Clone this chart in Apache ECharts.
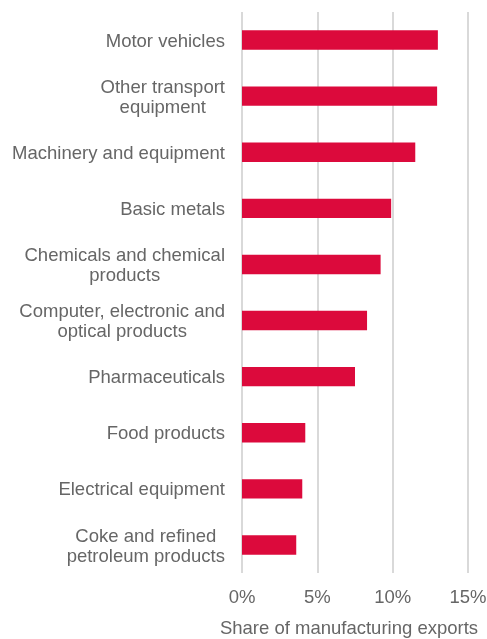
<!DOCTYPE html>
<html>
<head>
<meta charset="utf-8">
<script src="https://cdn.jsdelivr.net/npm/echarts@6/dist/echarts.min.js"></script>
<style>
  html, body { margin: 0; padding: 0; background: #fff; }
  #chart { width: 487px; height: 639px; }
</style>
</head>
<body>
<div id="chart"></div>
<script>
// Manufacturing sectors, top to bottom
const categories = [
  'Motor vehicles',
  'Other transport\nequipment',
  'Machinery and equipment',
  'Basic metals',
  'Chemicals and chemical\nproducts',
  'Computer, electronic and\noptical products',
  'Pharmaceuticals',
  'Food products',
  'Electrical equipment',
  'Coke and refined\npetroleum products'
];
// Share of manufacturing exports, in %
const shares = [13.0, 12.95, 11.5, 9.9, 9.2, 8.3, 7.5, 4.2, 4.0, 3.6];
// Value axis ticks, in %
const xTicks = [0, 5, 10, 15];
const xAxisTitle = 'Share of manufacturing exports';

const FONT = '"Liberation Sans", Arial, sans-serif';
const TEXT = '#666666';
const FS = 18.5;

const chart = echarts.init(document.getElementById('chart'), null, { renderer: 'canvas' });

chart.setOption({
  animation: false,
  backgroundColor: '#ffffff',
  grid: {
    left: 242, right: 19, top: 12, bottom: 66,
    containLabel: false,
    outerBoundsMode: 'none'
  },
  xAxis: {
    type: 'value',
    min: xTicks[0],
    max: xTicks[xTicks.length - 1],
    interval: xTicks[1] - xTicks[0],
    name: xAxisTitle,
    nameLocation: 'middle',
    nameGap: 46,
    nameTextStyle: { color: TEXT, fontSize: FS, fontFamily: FONT, padding: [0, 12, 0, 0] },
    axisLine: { show: false },
    axisTick: { show: false },
    axisLabel: {
      color: TEXT, fontSize: FS, fontFamily: FONT, margin: 15,
      formatter: v => v + '%'
    },
    splitLine: { show: true, lineStyle: { color: '#D9D9D9', width: 2 } }
  },
  yAxis: {
    type: 'category',
    inverse: true,
    data: categories,
    axisLine: { show: false },
    axisTick: { show: false },
    axisLabel: {
      color: TEXT, fontSize: FS, fontFamily: FONT, margin: 17,
      lineHeight: 20,
      padding: [3, 0, 0, 0],
      formatter: v => v.split('\n').map(s => '{c|' + s + '}').join('\n'),
      rich: { c: { align: 'center', color: TEXT, fontSize: FS, fontFamily: FONT, lineHeight: 20 } }
    }
  },
  series: [{
    type: 'bar',
    data: shares,
    barWidth: '34.5%',
    itemStyle: { color: '#DC0A3C' },
    silent: true
  }]
});
</script>
</body>
</html>
